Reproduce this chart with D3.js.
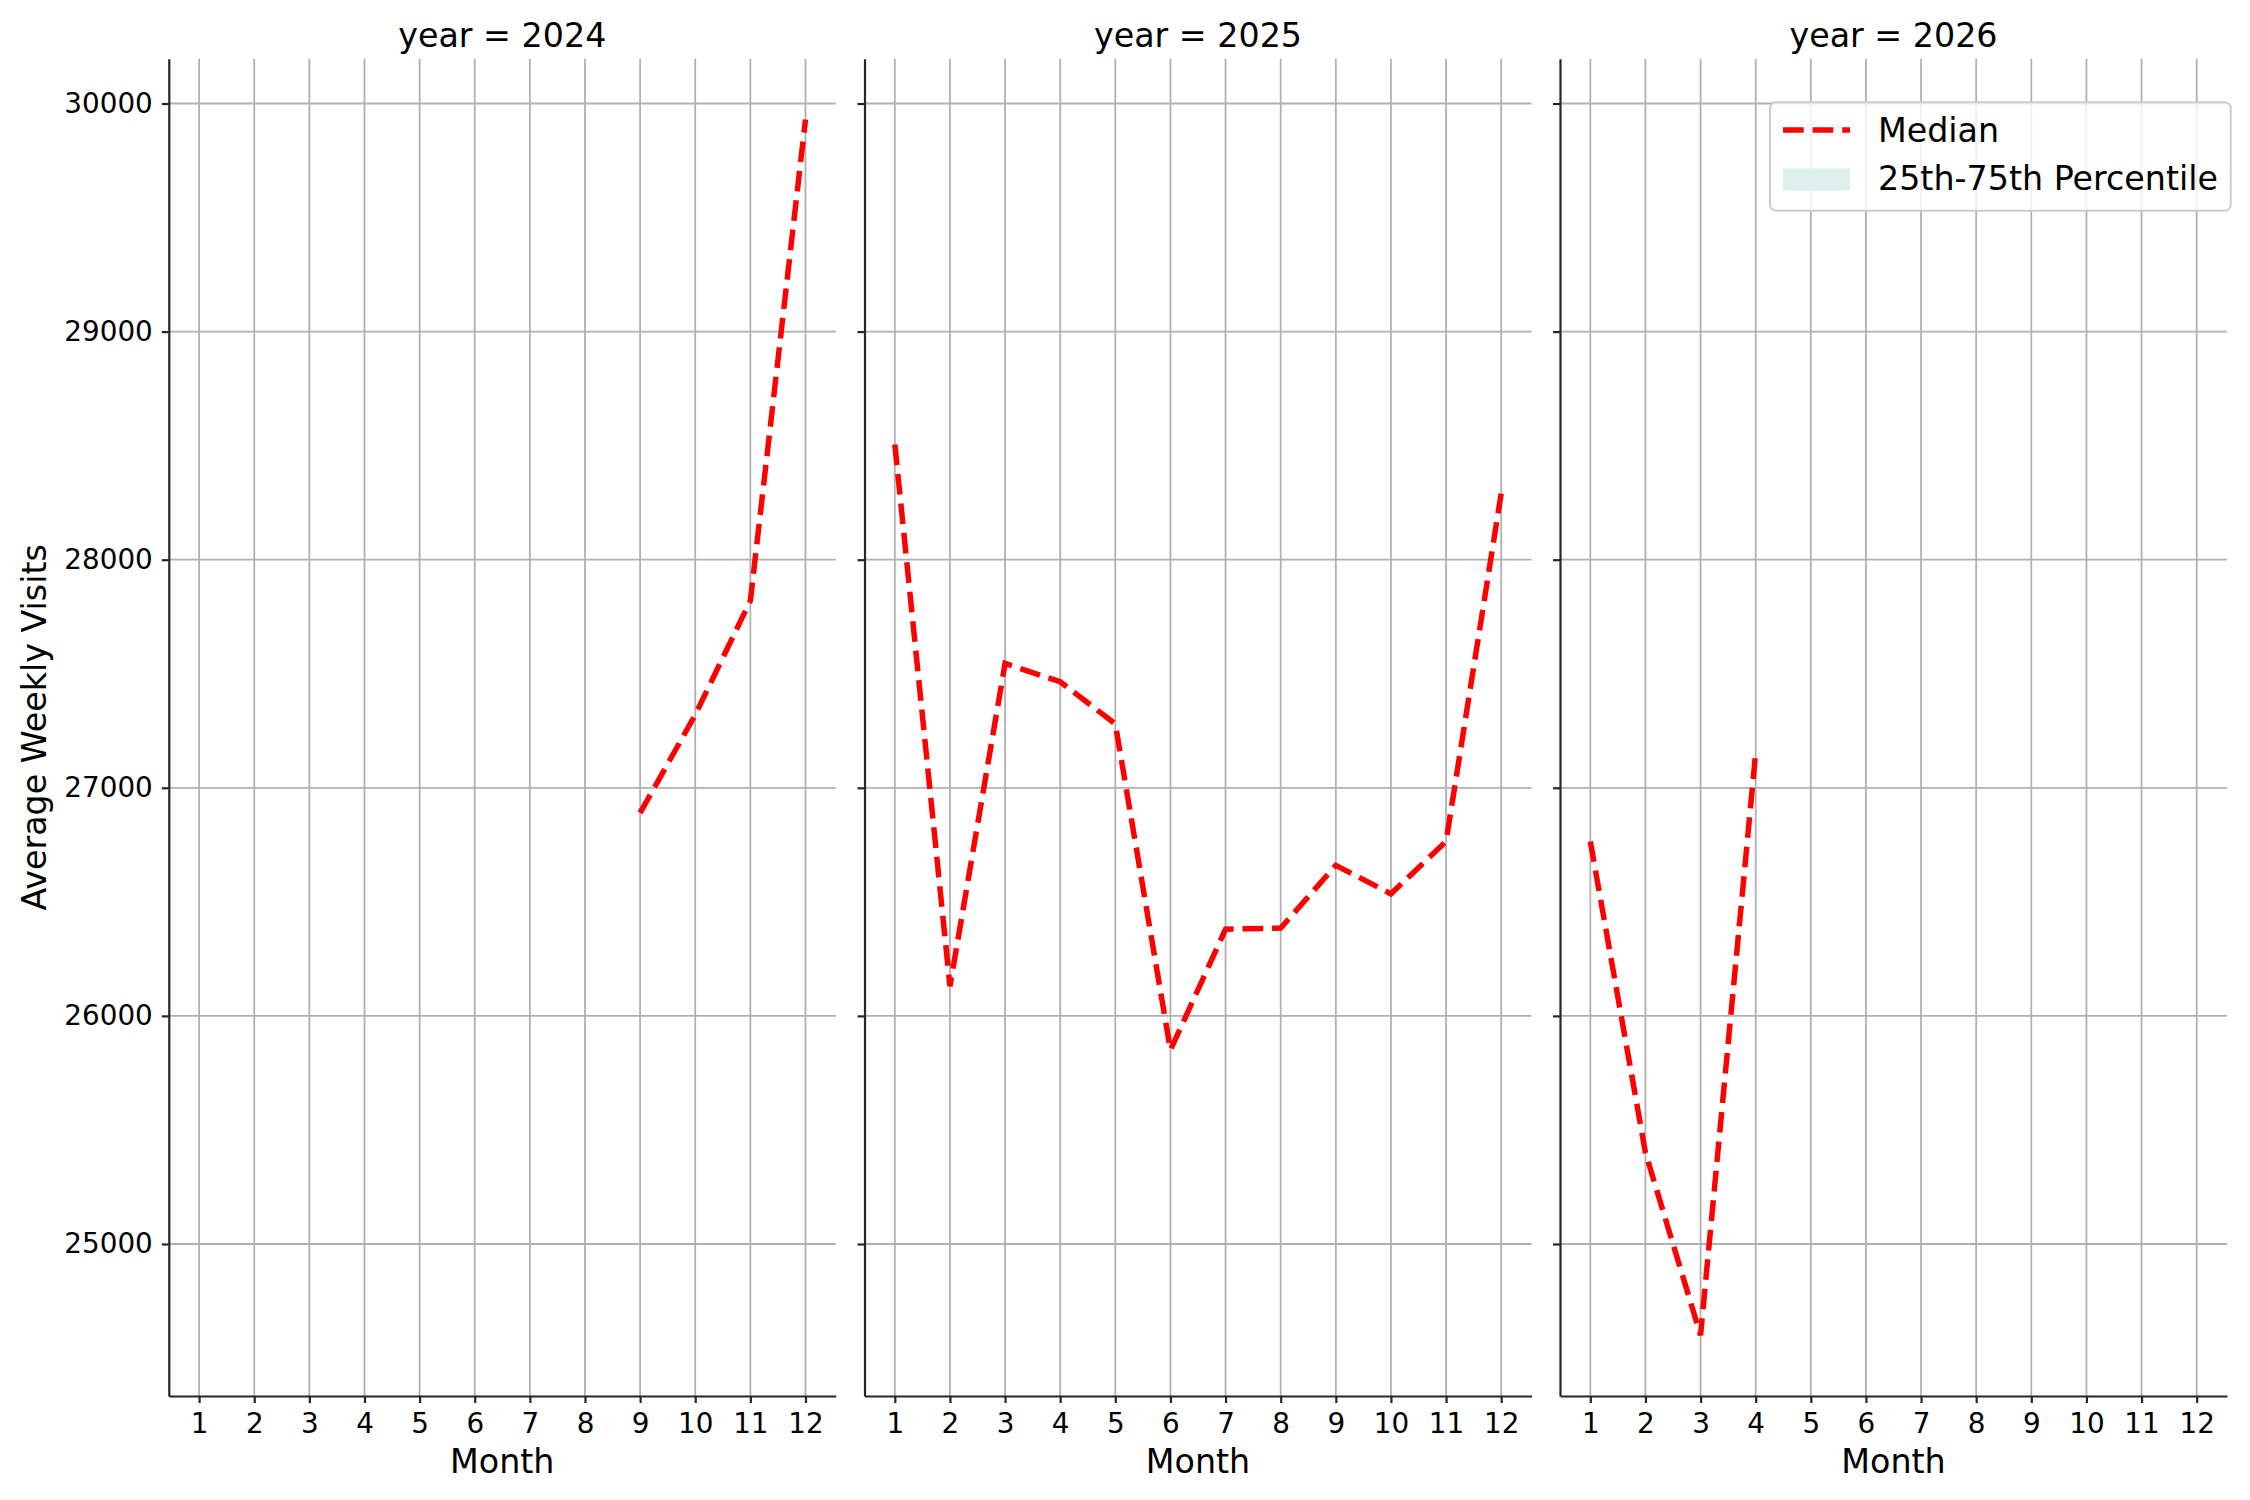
<!DOCTYPE html>
<html>
<head>
<meta charset="utf-8">
<script src="https://cdn.jsdelivr.net/npm/d3@7"></script>
<style>
  body { margin: 0; background: #fff; }
  svg text { font-family: "DejaVu Sans", sans-serif; fill: #000; }
</style>
</head>
<body>
<script>
// facet years and the months on the x axis
var years = [2024, 2025, 2026];
var months = [1, 2, 3, 4, 5, 6, 7, 8, 9, 10, 11, 12];
var yTicks = [25000, 26000, 27000, 28000, 29000, 30000];

// median weekly visits
var months2024 = [9, 10, 11, 12];
var median2024 = [26890, 27320, 27820, 29930];
var months2025 = [1, 2, 3, 4, 5, 6, 7, 8, 9, 10, 11, 12];
var median2025 = [28505, 26130, 27545, 27465, 27280, 25850, 26380, 26385, 26660, 26535, 26765, 28290];
var months2026 = [1, 2, 3, 4];
var median2026 = [26765, 25400, 24600, 27155];

var legendLabels = ["Median", "25th-75th Percentile"];

var series = [
  { year: years[0], months: months2024, values: median2024 },
  { year: years[1], months: months2025, values: median2025 },
  { year: years[2], months: months2026, values: median2026 }
];

var width = 2250, height = 1500;
var plotTop = 58.7, plotBottom = 1396;
var panelLeft = [168.8, 864.5, 1560], panelW = 667;

var svg = d3.select("body").append("svg").attr("width", width).attr("height", height);

// shared y scale, 5% padding like matplotlib
var all = median2024.concat(median2025, median2026);
var lo = d3.min(all), hi = d3.max(all), pad = (hi - lo) * 0.05;
var y = d3.scaleLinear().domain([lo - pad, hi + pad]).range([plotBottom, plotTop]);

var mlo = d3.min(months), mhi = d3.max(months), mpad = (mhi - mlo) * 0.05;

series.forEach(function(s, i) {
  var x0 = panelLeft[i];
  var x = d3.scaleLinear().domain([mlo - mpad, mhi + mpad]).range([x0, x0 + panelW]);
  var g = svg.append("g");

  // grid
  g.append("g").selectAll("line").data(months).enter().append("line")
    .attr("x1", function(d) { return x(d); }).attr("x2", function(d) { return x(d); })
    .attr("y1", plotTop).attr("y2", plotBottom)
    .attr("stroke", "#b0b0b0").attr("stroke-width", 1.8);
  g.append("g").selectAll("line").data(yTicks).enter().append("line")
    .attr("y1", function(d) { return y(d); }).attr("y2", function(d) { return y(d); })
    .attr("x1", x0).attr("x2", x0 + panelW)
    .attr("stroke", "#b0b0b0").attr("stroke-width", 1.8);

  // median line
  var pts = s.months.map(function(m, j) { return [m, s.values[j]]; });
  g.append("path").datum(pts)
    .attr("fill", "none").attr("stroke", "red").attr("stroke-width", 5.5)
    .attr("stroke-dasharray", "20.7,8.9")
    .attr("d", d3.line().x(function(d) { return x(d[0]); }).y(function(d) { return y(d[1]); }));

  // axes
  var ax = g.append("g").attr("transform", "translate(0," + plotBottom + ")")
    .call(d3.axisBottom(x).tickValues(months).tickFormat(d3.format("d")).tickSize(7).tickSizeOuter(0).tickPadding(10));
  var ay = g.append("g").attr("transform", "translate(" + x0 + ",0)")
    .call(d3.axisLeft(y).tickValues(yTicks).tickFormat(i == 0 ? d3.format("d") : "").tickSize(7).tickSizeOuter(0).tickPadding(9));
  [ax, ay].forEach(function(a) {
    a.selectAll("path, line").attr("stroke", "#262626").attr("stroke-width", 2.2);
    a.selectAll("text").attr("font-size", "27.8px").attr("fill", "#000")
      .attr("font-family", "DejaVu Sans, sans-serif");
  });

  g.append("text").attr("x", x0 + panelW / 2).attr("y", 47)
    .attr("text-anchor", "middle").attr("font-size", "33.3px")
    .text("year = " + s.year);
  g.append("text").attr("x", x0 + panelW / 2).attr("y", 1473)
    .attr("text-anchor", "middle").attr("font-size", "33.3px")
    .text("Month");
});

svg.append("text").attr("transform", "translate(46," + (plotTop + plotBottom) / 2 + ")rotate(-90)")
  .attr("text-anchor", "middle").attr("font-size", "33.3px")
  .text("Average Weekly Visits");

// legend
var lg = svg.append("g");
lg.append("rect").attr("x", 1770).attr("y", 102.3).attr("width", 460.7).attr("height", 108.4)
  .attr("rx", 6).attr("fill", "white").attr("fill-opacity", 0.8)
  .attr("stroke", "#cccccc").attr("stroke-width", 2);
lg.append("line").attr("x1", 1783).attr("x2", 1850).attr("y1", 130).attr("y2", 130)
  .attr("stroke", "red").attr("stroke-width", 5.5).attr("stroke-dasharray", "20.7,8.9");
lg.append("rect").attr("x", 1783).attr("y", 168.3).attr("width", 67).attr("height", 22.4)
  .attr("fill", "rgb(221,240,235)");
lg.selectAll("text.lab").data(legendLabels).enter().append("text").attr("class", "lab")
  .attr("x", 1878).attr("y", function(d, i) { return 142 + i * 48; })
  .attr("font-size", "33.3px").text(function(d) { return d; });
</script>
</body>
</html>
